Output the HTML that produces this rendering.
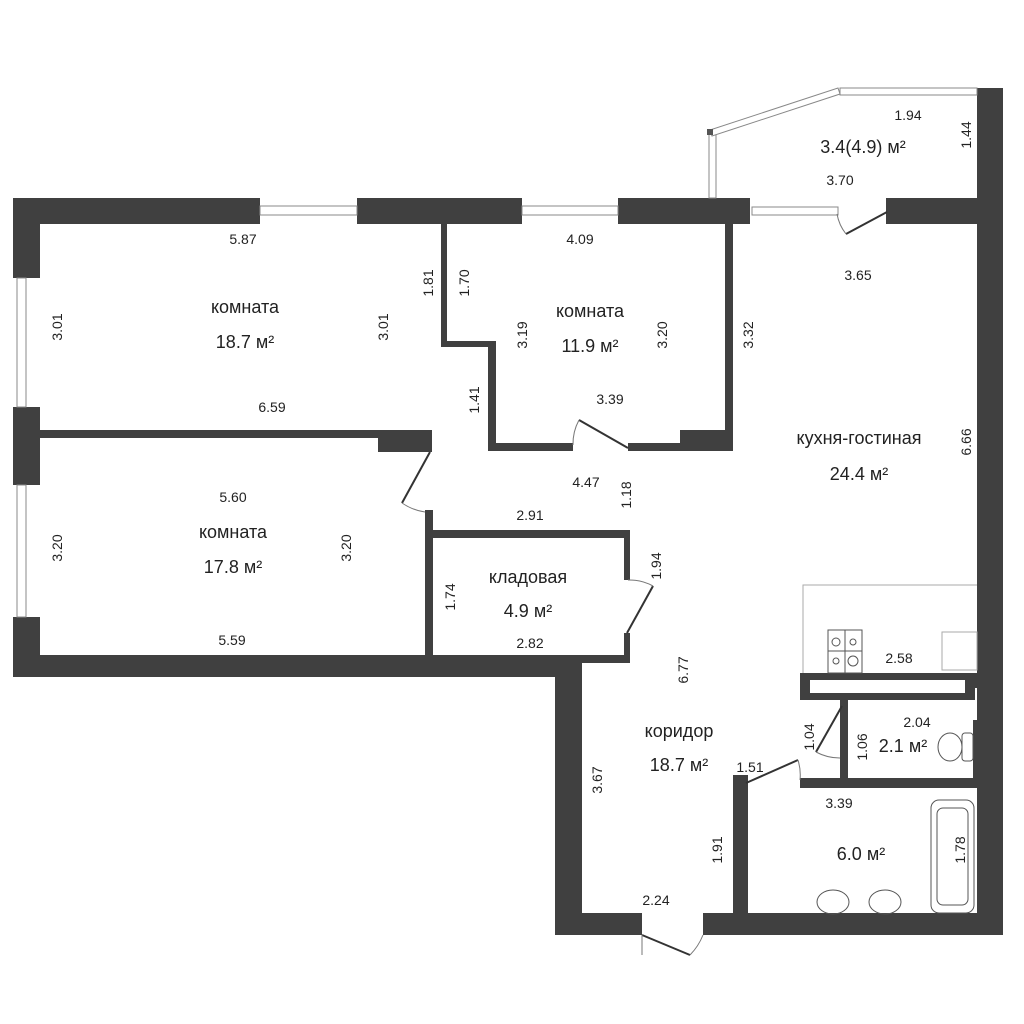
<!DOCTYPE html>
<html><head><meta charset="utf-8"><style>
html,body{margin:0;padding:0;background:#fff;}
svg{display:block}
text{font-family:"Liberation Sans",sans-serif;fill:#222;}
.d{font-size:14px}
.a{font-size:18px}
</style></head><body>
<svg width="1024" height="1024" viewBox="0 0 1024 1024" xmlns="http://www.w3.org/2000/svg">
<g fill="#404040">
<rect x="13" y="198" width="247" height="26"/>
<rect x="357" y="198" width="165" height="26"/>
<rect x="618" y="198" width="132" height="26"/>
<rect x="886" y="198" width="117" height="26"/>
<rect x="977" y="88" width="26" height="847"/>
<rect x="13" y="198" width="27" height="80"/>
<rect x="13" y="407" width="27" height="78"/>
<rect x="13" y="617" width="27" height="60"/>
<rect x="13" y="655" width="569" height="22"/>
<rect x="555" y="655" width="27" height="280"/>
<rect x="555" y="913" width="87" height="22"/>
<rect x="703" y="913" width="300" height="22"/>
<rect x="441" y="224" width="6" height="123"/>
<rect x="441" y="341" width="55" height="6"/>
<rect x="488" y="341" width="8" height="110"/>
<rect x="488" y="443" width="85" height="8"/>
<rect x="628" y="443" width="105" height="8"/>
<rect x="680" y="430" width="53" height="21"/>
<rect x="725" y="224" width="8" height="227"/>
<rect x="40" y="430" width="392" height="8"/>
<rect x="378" y="430" width="54" height="22"/>
<rect x="425" y="510" width="8" height="150"/>
<rect x="425" y="530" width="205" height="8"/>
<rect x="624" y="530" width="6" height="50"/>
<rect x="624" y="633" width="6" height="30"/>
<rect x="425" y="655" width="205" height="8"/>
<rect x="800" y="673" width="175" height="27"/>
<rect x="973" y="673" width="4" height="15"/>
<rect x="840" y="700" width="8" height="78"/>
<rect x="733" y="775" width="15" height="138"/>
<rect x="800" y="778" width="177" height="10"/>
<rect x="973" y="720" width="4" height="60"/>
</g>
<rect x="810" y="680" width="155" height="13" fill="#fff"/>
<g fill="#fff" stroke="#888" stroke-width="1">
<rect x="260" y="206" width="97" height="9"/>
<rect x="522" y="206" width="96" height="9"/>
<rect x="17" y="278" width="9" height="129"/>
<rect x="17" y="485" width="9" height="132"/>
<rect x="752" y="207" width="86" height="8"/>
<rect x="840" y="88" width="137" height="7"/>
<rect x="709" y="131" width="7" height="67"/>
</g>
<polygon points="710,130 838,88 840,94 712,136" fill="#fff" stroke="#888"/>
<rect x="707" y="129" width="6" height="6" fill="#555"/>
<g fill="none" stroke="#333" stroke-width="2">
<line x1="887" y1="212" x2="846" y2="234"/>
<line x1="579" y1="420" x2="628" y2="448"/>
<line x1="430" y1="452" x2="402" y2="503"/>
<line x1="653" y1="586" x2="627" y2="633"/>
<line x1="842" y1="706" x2="816" y2="752"/>
<line x1="798" y1="760" x2="746" y2="783"/>
<line x1="642" y1="935" x2="690" y2="955"/>
</g>
<g fill="none" stroke="#777" stroke-width="1">
<path d="M846,234 A45,45 0 0 1 837,214"/>
<path d="M579,420 A50,50 0 0 0 573,445"/>
<path d="M402,503 A55,55 0 0 0 425,512"/>
<path d="M653,586 A50,50 0 0 0 628,580"/>
<path d="M816,752 A50,50 0 0 0 840,758"/>
<path d="M798,760 A50,50 0 0 1 800,780"/>
<path d="M690,955 A60,60 0 0 0 703,935"/>
<line x1="642" y1="935" x2="642" y2="955"/>
</g>
<g fill="none" stroke="#aaa" stroke-width="1">
<path d="M803,673 V585 H977"/>
<rect x="942" y="632" width="35" height="38"/>
</g>
<g fill="none" stroke="#555" stroke-width="1">
<rect x="828" y="630" width="34" height="43"/>
<line x1="845" y1="630" x2="845" y2="673"/><line x1="828" y1="651" x2="862" y2="651"/>
<circle cx="836" cy="642" r="4"/><circle cx="853" cy="642" r="3"/>
<circle cx="836" cy="661" r="3"/><circle cx="853" cy="661" r="5"/>
<ellipse cx="950" cy="747" rx="12" ry="14"/>
<rect x="962" y="733" width="11" height="28" rx="3"/>
<rect x="931" y="800" width="43" height="113" rx="8"/>
<rect x="937" y="808" width="31" height="97" rx="6"/>
<ellipse cx="833" cy="902" rx="16" ry="12"/>
<ellipse cx="885" cy="902" rx="16" ry="12"/>
</g>
<text class="a" x="245" y="313" text-anchor="middle">комната</text>
<text class="a" x="245" y="348" text-anchor="middle">18.7 м²</text>
<text class="a" x="590" y="317" text-anchor="middle">комната</text>
<text class="a" x="590" y="352" text-anchor="middle">11.9 м²</text>
<text class="a" x="233" y="538" text-anchor="middle">комната</text>
<text class="a" x="233" y="573" text-anchor="middle">17.8 м²</text>
<text class="a" x="528" y="583" text-anchor="middle">кладовая</text>
<text class="a" x="528" y="617" text-anchor="middle">4.9 м²</text>
<text class="a" x="859" y="444" text-anchor="middle">кухня-гостиная</text>
<text class="a" x="859" y="480" text-anchor="middle">24.4 м²</text>
<text class="a" x="679" y="737" text-anchor="middle">коридор</text>
<text class="a" x="679" y="771" text-anchor="middle">18.7 м²</text>
<text class="a" x="863" y="153" text-anchor="middle">3.4(4.9) м²</text>
<text class="a" x="903" y="752" text-anchor="middle">2.1 м²</text>
<text class="a" x="861" y="860" text-anchor="middle">6.0 м²</text>
<g class="d" text-anchor="middle">
<text x="243" y="244">5.87</text><text x="580" y="244">4.09</text>
<text x="908" y="120">1.94</text><text x="840" y="185">3.70</text>
<text x="858" y="280">3.65</text>
<text x="272" y="412">6.59</text><text x="610" y="404">3.39</text>
<text x="233" y="502">5.60</text><text x="586" y="487">4.47</text>
<text x="530" y="520">2.91</text><text x="232" y="645">5.59</text>
<text x="530" y="648">2.82</text><text x="899" y="663">2.58</text>
<text x="917" y="727">2.04</text><text x="750" y="772">1.51</text>
<text x="839" y="808">3.39</text><text x="656" y="905">2.24</text>
</g>
<g class="d" text-anchor="middle">
<text transform="translate(62,327) rotate(-90)">3.01</text>
<text transform="translate(388,327) rotate(-90)">3.01</text>
<text transform="translate(433,283) rotate(-90)">1.81</text>
<text transform="translate(469,283) rotate(-90)">1.70</text>
<text transform="translate(527,335) rotate(-90)">3.19</text>
<text transform="translate(667,335) rotate(-90)">3.20</text>
<text transform="translate(753,335) rotate(-90)">3.32</text>
<text transform="translate(971,135) rotate(-90)">1.44</text>
<text transform="translate(479,400) rotate(-90)">1.41</text>
<text transform="translate(971,442) rotate(-90)">6.66</text>
<text transform="translate(631,495) rotate(-90)">1.18</text>
<text transform="translate(62,548) rotate(-90)">3.20</text>
<text transform="translate(351,548) rotate(-90)">3.20</text>
<text transform="translate(455,597) rotate(-90)">1.74</text>
<text transform="translate(661,566) rotate(-90)">1.94</text>
<text transform="translate(688,670) rotate(-90)">6.77</text>
<text transform="translate(814,737) rotate(-90)">1.04</text>
<text transform="translate(867,747) rotate(-90)">1.06</text>
<text transform="translate(602,780) rotate(-90)">3.67</text>
<text transform="translate(722,850) rotate(-90)">1.91</text>
<text transform="translate(965,850) rotate(-90)">1.78</text>
</g>
</svg>
</body></html>
